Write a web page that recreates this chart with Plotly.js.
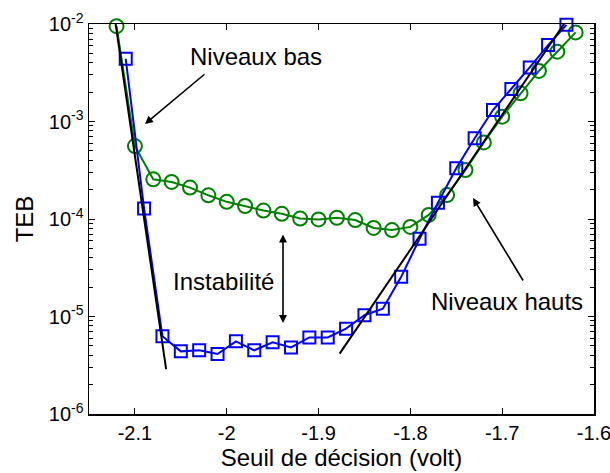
<!DOCTYPE html>
<html>
<head>
<meta charset="utf-8">
<script src="https://cdn.plot.ly/plotly-3.0.1.min.js"></script>
<style>html,body{margin:0;padding:0;background:#fff;}</style>
</head>
<body>
<div id="chart" style="width:610px;height:473px;"></div>
<script>
// ---- data ----
const greenX = [-2.12,-2.10,-2.08,-2.06,-2.04,-2.02,-2.00,-1.98,-1.96,-1.94,-1.92,-1.90,-1.88,-1.86,-1.84,-1.82,-1.80,-1.78,-1.76,-1.74,-1.72,-1.70,-1.68,-1.66,-1.64,-1.62];
const greenY = [9.5e-3,5.6e-4,2.55e-4,2.4e-4,2.1e-4,1.75e-4,1.5e-4,1.36e-4,1.22e-4,1.13e-4,1.01e-4,9.9e-5,1.03e-4,9.75e-5,8.1e-5,7.7e-5,8.3e-5,1.1e-4,1.76e-4,3.18e-4,6.1e-4,1.12e-3,1.95e-3,3.3e-3,5.2e-3,8.2e-3];
const blueX = [-2.11,-2.09,-2.07,-2.05,-2.03,-2.01,-1.99,-1.97,-1.95,-1.93,-1.91,-1.89,-1.87,-1.85,-1.83,-1.81,-1.79,-1.77,-1.75,-1.73,-1.71,-1.69,-1.67,-1.65,-1.63];
const blueY = [4.4e-3,1.28e-4,6.27e-6,4.39e-6,4.5e-6,4.12e-6,5.56e-6,4.5e-6,5.43e-6,4.82e-6,6.1e-6,6.1e-6,7.5e-6,1.03e-5,1.2e-5,2.55e-5,6.27e-5,1.47e-4,3.31e-4,6.73e-4,1.31e-3,2.15e-3,3.59e-3,6.08e-3,9.8e-3];
const lowFitX = [-2.121,-2.066];
const lowFitY = [1e-2,2.89e-6];
const highFitX = [-1.877,-1.627];
const highFitY = [4.16e-6,1.2e-2];
const xTickVals = [-2.1,-2.0,-1.9,-1.8,-1.7,-1.6];
const xTickText = ['-2.1','-2','-1.9','-1.8','-1.7','-1.6'];
const yTickVals = [1e-6,1e-5,1e-4,1e-3,1e-2];
const yTickText = ['10<sup>-6</sup>','10<sup>-5</sup>','10<sup>-4</sup>','10<sup>-3</sup>','10<sup>-2</sup>'];
const labels = {low:'Niveaux bas', mid:'Instabilité', high:'Niveaux hauts', x:'Seuil de décision (volt)', y:'TEB'};

// ---- layout helpers (pixel -> paper) ----
const W = 610, H = 473, L = 89, R = 16, T = 24, B = 59;
const PW = W - L - R, PH = H - T - B;
const px = v => (v - L) / PW;
const py = v => 1 - (v - T) / PH;

const minorVals = [];
for (let e = -6; e < -2; e++) for (let m = 2; m <= 9; m++) minorVals.push(m * Math.pow(10, e));

const font = 'Liberation Sans, Arial, Helvetica, sans-serif';

const traces = [
  {x: greenX, y: greenY, mode: 'lines+markers', type: 'scatter',
   line: {color: '#008000', width: 2},
   marker: {symbol: 'circle-open', size: 14, color: '#008000', line: {width: 2, color: '#008000'}},
   cliponaxis: false, showlegend: false},
  {x: blueX, y: blueY, mode: 'lines+markers', type: 'scatter',
   line: {color: '#0000FF', width: 2},
   marker: {symbol: 'square-open', size: 12, color: '#0000FF', line: {width: 2, color: '#0000FF'}},
   cliponaxis: false, showlegend: false},
  {x: lowFitX, y: lowFitY, mode: 'lines', type: 'scatter',
   line: {color: '#000000', width: 2}, showlegend: false},
  {x: highFitX, y: highFitY, mode: 'lines', type: 'scatter',
   line: {color: '#000000', width: 2}, showlegend: false}
];

const arrowBase = {xref: 'paper', yref: 'paper', text: '', showarrow: true,
  arrowhead: 2, arrowsize: 1, arrowwidth: 1.6, arrowcolor: '#000', standoff: 0, startstandoff: 0};

const layout = {
  width: W, height: H,
  margin: {l: L, r: R, t: T, b: B},
  paper_bgcolor: '#fff', plot_bgcolor: '#fff',
  font: {family: font, size: 20, color: '#000'},
  showlegend: false,
  xaxis: {
    range: [-2.15, -1.6], tickmode: 'array', tickvals: xTickVals, ticktext: xTickText,
    ticks: 'inside', ticklen: 6, tickwidth: 1, tickcolor: '#000',
    showline: true, linecolor: '#000', linewidth: 1.5, mirror: 'ticks',
    showgrid: false, zeroline: false, ticklabeloverflow: 'allow',
    tickfont: {family: font, size: 20, color: '#000'},
    title: {text: labels.x, font: {family: font, size: 24, color: '#000'}, standoff: 6}
  },
  yaxis: {
    type: 'log', range: [-6, -2], tickmode: 'array', tickvals: yTickVals, ticktext: yTickText,
    ticks: 'inside', ticklen: 6, tickwidth: 1, tickcolor: '#000',
    showline: true, linecolor: '#000', linewidth: 1.5, mirror: 'ticks',
    showgrid: false, zeroline: false, ticklabeloverflow: 'allow',
    minor: {tickmode: 'array', tickvals: minorVals, ticks: 'inside', ticklen: 4, tickcolor: '#000', showgrid: false},
    tickfont: {family: font, size: 20, color: '#000'},
    title: {text: labels.y, font: {family: font, size: 24, color: '#000'}, standoff: 8}
  },
  annotations: [
    {xref: 'paper', yref: 'paper', x: px(256), y: py(56), text: labels.low, showarrow: false,
     xanchor: 'center', yanchor: 'middle', font: {family: font, size: 24, color: '#000'}},
    {xref: 'paper', yref: 'paper', x: px(223), y: py(281), text: labels.mid, showarrow: false,
     xanchor: 'center', yanchor: 'middle', font: {family: font, size: 24, color: '#000'}},
    {xref: 'paper', yref: 'paper', x: px(507), y: py(301), text: labels.high, showarrow: false,
     xanchor: 'center', yanchor: 'middle', font: {family: font, size: 24, color: '#000'}},
    Object.assign({}, arrowBase, {x: px(145), y: py(124), ax: 61, ay: -51}),
    Object.assign({}, arrowBase, {x: px(283), y: py(323), ax: 0, ay: -90, arrowside: 'end+start'}),
    Object.assign({}, arrowBase, {x: px(473), y: py(198), ax: 51, ay: 84})
  ]
};

Plotly.newPlot('chart', traces, layout, {displayModeBar: false, staticPlot: true});
</script>
</body>
</html>
